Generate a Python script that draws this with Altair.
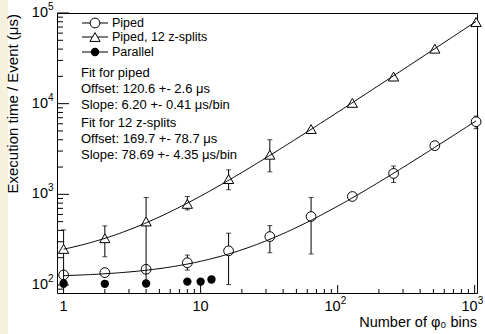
import altair as alt
import pandas as pd
import numpy as np

# ---------------- data ----------------
x_bins = [1, 2, 4, 8, 16, 32, 64, 128, 256, 512, 1024]

piped = [129, 137, 149, 176, 238, 342, 569, 947, 1700, 3440, 6320]
piped_lo = [129, 137, 149, 146, 101, 227, 220, 947, 1350, 3200, 5300]
piped_hi = [129, 137, 149, 214, 373, 452, 922, 947, 2050, 3700, 7300]

zsplit = [250, 328, 502, 785, 1472, 2735, 5250, 10200, 19900, 40400, 79500]
zsplit_lo = [95, 205, 105, 674, 1123, 1770, 5250, 10200, 19900, 40400, 79500]
zsplit_hi = [405, 449, 922, 946, 1864, 4000, 5250, 10200, 19900, 40400, 79500]

parallel_x = [1, 2, 4, 8, 10, 12]
parallel_y = [104, 103, 104, 109, 109, 115]

# fit results printed on the chart (offset + slope * nbins)
fit_piped = (120.6, 6.20)
fit_zsplit = (169.7, 78.69)

legend_labels = ["Piped", "Piped, 12 z-splits", "Parallel"]
fit_text = [
    "Fit for piped",
    "Offset: 120.6 +- 2.6 \u03bcs",
    "Slope: 6.20 +- 0.41 \u03bcs/bin",
    "Fit for 12 z-splits",
    "Offset: 169.7 +- 78.7 \u03bcs",
    "Slope: 78.69 +- 4.35 \u03bcs/bin",
]

y_major = [100, 1000, 10000, 100000]
y_major_exp = ["2", "3", "4", "5"]
x_major = [1, 10, 100, 1000]
x_major_base = ["1", "10", "10", "10"]
x_major_exp = ["", "", "2", "3"]

y_minor = [90] + [m * d for d in (100, 1000, 10000) for m in range(2, 10)]
x_minor = [m * d for d in (1, 10, 100) for m in range(2, 10)]

# ---------------- tables ----------------
W, H = 420, 280
FONT = "Liberation Sans"

df_p = pd.DataFrame({"x": x_bins, "y": piped, "lo": piped_lo, "hi": piped_hi})
df_z = pd.DataFrame({"x": x_bins, "y": zsplit, "lo": zsplit_lo, "hi": zsplit_hi})
df_par = pd.DataFrame({"x": parallel_x, "y": parallel_y})

xs = np.logspace(0, np.log10(x_bins[-1]), 200)
df_fit_p = pd.DataFrame({"x": xs, "y": fit_piped[0] + fit_piped[1] * xs})
df_fit_z = pd.DataFrame({"x": xs, "y": fit_zsplit[0] + fit_zsplit[1] * xs})

xscale = alt.Scale(type="log", domain=[0.895, 1040], nice=False)
yscale = alt.Scale(type="log", domain=[81.6, 100000], nice=False)


def X(f="x"):
    return alt.X(f"{f}:Q", scale=xscale, axis=None)


def Y(f="y"):
    return alt.Y(f"{f}:Q", scale=yscale, axis=None)


layers = []
one = pd.DataFrame({"a": [0]})

# left cream strip of the canvas
layers.append(
    alt.Chart(one).mark_rect(color="#f6f1dc").encode(
        x=alt.value(-57), x2=alt.value(-49), y=alt.value(-13), y2=alt.value(H + 41)
    )
)


def errbars(df):
    base = alt.Chart(df)
    r = base.mark_rule(color="black", strokeWidth=1).encode(x=X(), y=Y("lo"), y2="hi:Q")
    c1 = base.mark_tick(orient="horizontal", size=5, thickness=1, color="black").encode(x=X(), y=Y("lo"))
    c2 = base.mark_tick(orient="horizontal", size=5, thickness=1, color="black").encode(x=X(), y=Y("hi"))
    return [r, c1, c2]


layers += errbars(df_p)
layers.append(
    alt.Chart(df_p).mark_point(shape="circle", size=95, fill="white", fillOpacity=1,
                               stroke="black", strokeWidth=1, opacity=1).encode(x=X(), y=Y())
)
layers += errbars(df_z)
layers.append(
    alt.Chart(df_z).mark_point(shape="triangle-up", size=105, fill="white", fillOpacity=1,
                               stroke="black", strokeWidth=1, opacity=1).encode(x=X(), y=Y())
)
for dff in (df_fit_p, df_fit_z):
    layers.append(alt.Chart(dff).mark_line(color="black", strokeWidth=1).encode(x=X(), y=Y()))
layers.append(
    alt.Chart(df_par).mark_point(shape="circle", size=70, filled=True, color="black",
                                 opacity=1).encode(x=X(), y=Y())
)

# ---------------- ticks (inside the frame, ROOT style) ----------------
layers.append(alt.Chart(pd.DataFrame({"v": y_major})).mark_rule(color="black").encode(
    y=Y("v"), x=alt.value(0), x2=alt.value(12)))
layers.append(alt.Chart(pd.DataFrame({"v": y_minor})).mark_rule(color="black").encode(
    y=Y("v"), x=alt.value(0), x2=alt.value(6)))
layers.append(alt.Chart(pd.DataFrame({"v": x_major})).mark_rule(color="black").encode(
    x=X("v"), y=alt.value(H), y2=alt.value(H - 8)))
layers.append(alt.Chart(pd.DataFrame({"v": x_minor})).mark_rule(color="black").encode(
    x=X("v"), y=alt.value(H), y2=alt.value(H - 4)))

# ---------------- tick labels ----------------
df_yl = pd.DataFrame({"v": y_major, "b": ["10"] * 4, "e": y_major_exp})
layers.append(alt.Chart(df_yl).mark_text(align="right", baseline="middle", fontSize=14.5, font=FONT).encode(
    y=Y("v"), x=alt.value(-9), text="b:N"))
layers.append(alt.Chart(df_yl).mark_text(align="left", baseline="middle", fontSize=10, font=FONT, dy=-6).encode(
    y=Y("v"), x=alt.value(-9), text="e:N"))

df_xl = pd.DataFrame({"v": x_major, "b": x_major_base, "e": x_major_exp})
df_xl_plain = df_xl[df_xl["e"] == ""]
df_xl_exp = df_xl[df_xl["e"] != ""]
layers.append(alt.Chart(df_xl_plain).mark_text(align="center", baseline="middle", fontSize=14.5, font=FONT).encode(
    x=X("v"), y=alt.value(H + 14), text="b:N"))
layers.append(alt.Chart(df_xl_exp).mark_text(align="right", baseline="middle", fontSize=14.5, font=FONT, dx=3).encode(
    x=X("v"), y=alt.value(H + 14), text="b:N"))
layers.append(alt.Chart(df_xl_exp).mark_text(align="left", baseline="middle", fontSize=10, font=FONT, dx=3, dy=-6).encode(
    x=X("v"), y=alt.value(H + 14), text="e:N"))

# ---------------- axis titles ----------------
layers.append(alt.Chart(one).mark_text(align="right", baseline="alphabetic", fontSize=14.5, font=FONT).encode(
    x=alt.value(W), y=alt.value(H + 34), text=alt.value("Number of \u03c6\u2080 bins")))
layers.append(alt.Chart(one).mark_text(align="right", baseline="middle", angle=270, fontSize=15, font=FONT).encode(
    x=alt.value(-44), y=alt.value(1), text=alt.value("Execution time / Event (\u03bcs)")))

# ---------------- legend ----------------
leg_y = [10, 24, 39]
shapes = [("circle", 95, False), ("triangle-up", 105, False), ("circle", 70, True)]
for lab, yy, (shp, sz, fl) in zip(legend_labels, leg_y, shapes):
    layers.append(alt.Chart(one).mark_rule(color="black").encode(
        x=alt.value(25), x2=alt.value(51), y=alt.value(yy)))
    if fl:
        layers.append(alt.Chart(one).mark_point(shape=shp, size=sz, filled=True, color="black", opacity=1).encode(
            x=alt.value(38), y=alt.value(yy)))
    else:
        layers.append(alt.Chart(one).mark_point(shape=shp, size=sz, fill="white", fillOpacity=1,
                                                stroke="black", strokeWidth=1, opacity=1).encode(
            x=alt.value(38), y=alt.value(yy)))
    layers.append(alt.Chart(one).mark_text(align="left", baseline="middle", fontSize=12.5, font=FONT).encode(
        x=alt.value(55), y=alt.value(yy), text=alt.value(lab)))

fit_y = [60, 76, 92, 110, 126, 142]
for t, yy in zip(fit_text, fit_y):
    layers.append(alt.Chart(one).mark_text(align="left", baseline="middle", fontSize=13, font=FONT).encode(
        x=alt.value(24), y=alt.value(yy), text=alt.value(t)))

chart = alt.layer(*layers).properties(
    width=W, height=H,
    autosize=alt.AutoSizeParams(type="none"),
    padding={"left": 57, "top": 13, "right": 8, "bottom": 41},
    background="white",
).configure_view(stroke="black", strokeWidth=1)

chart.save("out.html", embed_options={"renderer": "svg", "actions": False})
